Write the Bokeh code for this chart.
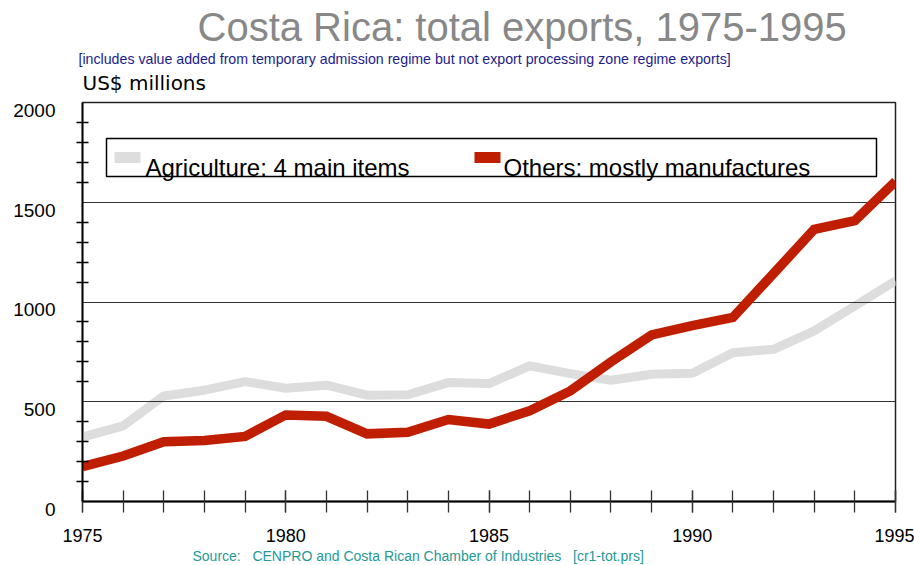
from bokeh.plotting import figure
from bokeh.models import Range1d, FixedTicker, Label, BoxAnnotation, Title
from bokeh.embed import file_html
from bokeh.resources import INLINE

# ---- data (US$ millions) ----
years = list(range(1975, 1996))
agriculture = [323, 379, 529, 558, 601, 568, 583, 533, 535, 596, 591,
               680, 641, 608, 638, 643, 746, 763, 855, 980, 1106]
others = [175, 228, 300, 306, 326, 434, 427, 339, 347, 411, 388,
          455, 554, 700, 835, 882, 923, 1143, 1364, 1408, 1605]
x_tick_labels = [1975, 1980, 1985, 1990, 1995]
y_tick_labels = [0, 500, 1000, 1500, 2000]
series_names = ["Agriculture: 4 main items", "Others: mostly manufactures"]
title_text = "Costa Rica: total exports, 1975-1995"
subtitle_text = ("[includes value added from temporary admission regime "
                 "but not export processing zone regime exports]")
unit_text = "US$ millions"
source_text = ("Source:\u00a0\u00a0 CENPRO and Costa Rican Chamber of Industries"
               "\u00a0\u00a0 [cr1-tot.prs]")

GRAY = "#dddddd"
RED = "#c01e00"
REG = "Liberation Sans"

FX0, FY0 = 82, 102            # canvas position of (1975, 2000)
FW, FH = 813, 399             # frame size in px

p = figure(frame_width=FW, frame_height=FH,
           x_range=Range1d(1975, 1995), y_range=Range1d(0, 2000),
           output_backend="svg", toolbar_location=None,
           min_border_left=FX0, min_border_right=914 - FX0 - FW,
           min_border_top=FY0, min_border_bottom=565 - FY0 - FH)
p.background_fill_color = "white"
p.border_fill_color = "white"
p.outline_line_color = "#222222"
p.outline_line_width = 1.5

PX_PER_YEAR = FW / 20.0
PX_PER_UNIT = FH / 2000.0


def dx(px):
    return 1975 + (px - FX0) / PX_PER_YEAR


def dy(py):
    return 2000 - (py - FY0) / PX_PER_UNIT


# grid
p.xgrid.visible = False
p.ygrid.ticker = FixedTicker(ticks=[500, 1000, 1500])
p.ygrid.grid_line_color = "#333333"
p.ygrid.grid_line_width = 1.2

# x axis
xa = p.xaxis[0]
xa.ticker = FixedTicker(ticks=x_tick_labels, minor_ticks=years)
xa.axis_line_color = "black"
xa.axis_line_width = 1.8
xa.major_tick_in = 11
xa.major_tick_out = 11
xa.minor_tick_in = 11
xa.minor_tick_out = 11
xa.major_tick_line_color = "#333333"
xa.minor_tick_line_color = "#333333"
xa.major_tick_line_width = 1.3
xa.minor_tick_line_width = 1.3
xa.major_label_text_font = REG
xa.major_label_text_font_size = "18px"
xa.major_label_text_color = "black"
xa.major_label_standoff = 16

# y axis (labels sit a little below their lines, as in the original)
ya = p.yaxis[0]
ya.ticker = FixedTicker(ticks=y_tick_labels,
                        minor_ticks=[v for v in range(100, 2000, 100) if v % 500])
ya.major_label_overrides = {v: "\n" + str(v) for v in y_tick_labels}
ya.major_label_text_line_height = 0.75
ya.axis_line_color = "black"
ya.axis_line_width = 1.8
ya.major_tick_in = 0
ya.major_tick_out = 0
ya.minor_tick_in = 6
ya.minor_tick_out = 6
ya.minor_tick_line_color = "black"
ya.minor_tick_line_width = 1.3
ya.major_label_text_font = REG
ya.major_label_text_font_size = "19px"
ya.major_label_text_color = "black"
ya.major_label_standoff = 21

# series
p.line(years, agriculture, line_width=9, line_color=GRAY, line_join="round", level="image")
p.line(years, others, line_width=9.5, line_color=RED, line_join="miter")

# legend (box, swatches, texts)
p.add_layout(BoxAnnotation(left=dx(106), right=dx(876), top=dy(138), bottom=dy(176),
                           fill_color=None, fill_alpha=0, line_color="black",
                           line_alpha=1, line_width=1.5))
p.quad(left=[dx(114), dx(474)], right=[dx(140), dx(500)], top=[dy(151.5), dy(151.5)],
       bottom=[dy(162.5), dy(162.5)], fill_color=[GRAY, RED], line_color=None)
for name, px in zip(series_names, [145, 503]):
    p.add_layout(Label(x=1975, y=2000, x_offset=px - FX0, y_offset=FY0 - 167, text=name,
                       text_align="left", text_baseline="alphabetic",
                       text_font=REG, text_font_size="24px", text_color="black"))

# texts above the frame (stacked outward from the frame)
p.add_layout(Title(text=unit_text, align="left", offset=0, standoff=16,
                   vertical_align="bottom", text_font="DejaVu Sans",
                   text_font_size="20px", text_font_style="normal",
                   text_color="black"), "above")
p.add_layout(Title(text=subtitle_text, align="left", offset=-4, standoff=-12,
                   vertical_align="bottom", text_font=REG,
                   text_font_size="14.2px", text_font_style="normal",
                   text_color="#1c1c8c"), "above")
p.add_layout(Title(text=title_text, align="left", offset=197 - FX0, standoff=8,
                   vertical_align="top", text_font=REG,
                   text_font_size="40px", text_font_style="normal",
                   text_color="#888888"), "above")

# source below the axis
p.add_layout(Title(text=source_text, align="left", offset=192 - FX0, standoff=6,
                   vertical_align="top", text_font=REG,
                   text_font_size="14px", text_font_style="normal",
                   text_color="#1f9a96"), "below")

open("out.html", "w").write(file_html(p, INLINE))
